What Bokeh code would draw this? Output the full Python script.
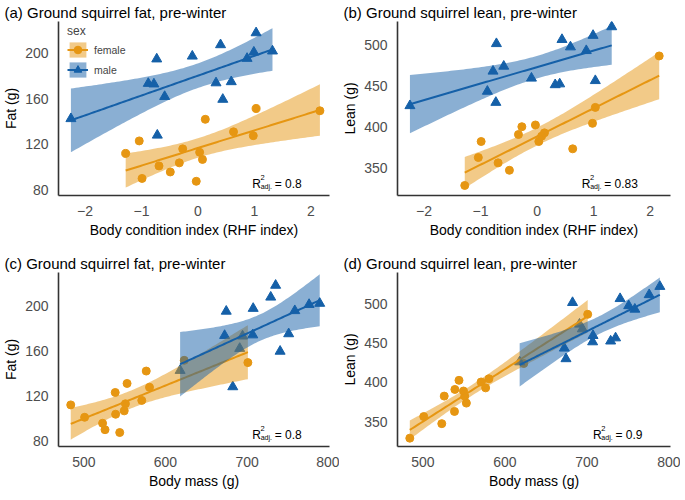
import numpy as np
from bokeh.plotting import figure
from bokeh.layouts import gridplot
from bokeh.models import Label, Legend, LegendItem, Range1d, FixedTicker
from bokeh.embed import file_html
from bokeh.resources import INLINE

# ---------------- data ----------------
female_rhf = [-1.28, -1.04, -0.99, -0.69, -0.49, -0.33, -0.27, -0.03, 0.03, 0.08, 0.13, 0.63, 0.98, 1.03, 2.16]
female_fat = [112, 123, 90, 101, 95.7, 103.7, 116, 87.5, 113, 106.7, 142, 131, 127.6, 151.5, 149.5]
female_lean = [329, 363, 382.5, 356.5, 347.5, 391, 400.5, 402.6, 382.5, 389, 393, 373.6, 404.6, 424, 486.6]
female_mass = [484, 538.5, 526, 501, 523, 539, 571, 544, 551, 549.5, 576.5, 553, 580.5, 623, 701]

male_rhf = [-2.25, -0.88, -0.73, -0.72, -0.59, -0.78, 0.32, -0.10, 0.40, 1.03, 0.44, 0.59, 0.87, 0.99, 1.32]
male_fat = [142.5, 173.5, 195, 128, 162, 173, 174, 197.5, 207.5, 218, 159.5, 175, 195.5, 201, 202]
male_lean = [426, 443.5, 430, 501.5, 474, 468, 451.5, 459.5, 452.5, 456.5, 506.5, 497.5, 493, 511.5, 522]
male_mass = [618, 672.5, 674.5, 682.5, 691, 694.5, 707, 707.5, 729, 735, 740.5, 751, 758.5, 776, 789]

r2_values = ["0.8", "0.83", "0.8", "0.9"]
titles = ["(a) Ground squirrel fat, pre-winter", "(b) Ground squirrel lean, pre-winter",
          "(c) Ground squirrel fat, pre-winter", "(d) Ground squirrel lean, pre-winter"]
xlabels = ["Body condition index (RHF index)", "Body condition index (RHF index)",
           "Body mass (g)", "Body mass (g)"]
ylabels = ["Fat (g)", "Lean (g)", "Fat (g)", "Lean (g)"]
rhf_ticks = [-2, -1, 0, 1, 2]
mass_ticks = [500, 600, 700, 800]
fat_ticks = [80, 120, 160, 200]
lean_ticks = [350, 400, 450, 500]

# ---------------- styling ----------------
FEMALE = "#E69612"
MALE = "#1560A8"
FONT = "Liberation Sans"
T_CRIT = 2.160  # t(0.975, df = 13)


def fit_band(x, y):
    x = np.asarray(x, float)
    y = np.asarray(y, float)
    n = len(x)
    b, a = np.polyfit(x, y, 1)
    xs = np.linspace(x.min(), x.max(), 80)
    yh = a + b * xs
    s = np.sqrt(np.sum((y - (a + b * x)) ** 2) / (n - 2))
    se = s * np.sqrt(1.0 / n + (xs - x.mean()) ** 2 / np.sum((x - x.mean()) ** 2))
    return xs, yh, yh - T_CRIT * se, yh + T_CRIT * se


def panel(idx, fx, fy, mx, my, xr, yr, xt, yt, r2frac, legend=False,
          fw=271, fh=174, left=52, right=10, top=21, bottom=46):
    p = figure(output_backend="svg", toolbar_location=None,
               frame_width=fw, frame_height=fh,
               min_border_left=left, min_border_right=right,
               min_border_top=top, min_border_bottom=bottom,
               x_range=Range1d(*xr), y_range=Range1d(*yr))
    p.outline_line_color = None
    p.xgrid.visible = False
    p.ygrid.visible = False
    p.background_fill_color = "white"
    p.border_fill_color = "white"

    p.title.text = titles[idx]
    p.title.text_font = FONT
    p.title.text_font_size = "15px"
    p.title.text_font_style = "normal"
    p.title.text_color = "black"
    p.title.align = "left"
    p.title.offset = -(left + 2)
    p.title.standoff = 2

    for ax in (p.xaxis[0], p.yaxis[0]):
        ax.axis_line_color = "#333333"
        ax.axis_line_width = 1.6
        ax.major_tick_line_color = None
        ax.minor_tick_line_color = None
        ax.major_label_text_font = FONT
        ax.major_label_text_font_size = "14px"
        ax.major_label_text_color = "#4D4D4D"
        ax.axis_label_text_font = FONT
        ax.axis_label_text_font_size = "14px"
        ax.axis_label_text_font_style = "normal"
        ax.axis_label_text_color = "black"
        ax.major_label_standoff = 4
        ax.axis_label_standoff = 3
    p.xaxis[0].ticker = FixedTicker(ticks=xt)
    p.yaxis[0].ticker = FixedTicker(ticks=yt)
    p.xaxis[0].axis_label = xlabels[idx]
    p.yaxis[0].axis_label = ylabels[idx]

    # points first (as in the reference), then ribbons + lines per group
    pf = p.scatter(fx, fy, marker="circle", size=8, color=FEMALE)
    pm = p.scatter(mx, my, marker="triangle", size=10, color=MALE)
    xs, yh, lo, hi = fit_band(fx, fy)
    bf = p.varea(x=xs, y1=lo, y2=hi, fill_color=FEMALE, fill_alpha=0.5)
    lf = p.line(xs, yh, line_color=FEMALE, line_width=2)
    xs, yh, lo, hi = fit_band(mx, my)
    bm = p.varea(x=xs, y1=lo, y2=hi, fill_color=MALE, fill_alpha=0.5)
    lm = p.line(xs, yh, line_color=MALE, line_width=2)

    # R^2 label (right part of the panel)
    x0 = xr[0] + r2frac * (xr[1] - xr[0])
    y0 = yr[0] + 0.065 * (yr[1] - yr[0])
    common = dict(x=x0, y=y0, text_font=FONT, text_color="black",
                  text_baseline="alphabetic", text_align="left")
    p.add_layout(Label(text="R", text_font_size="12px", **common))
    p.add_layout(Label(text="2", text_font_size="7.5px", x_offset=8.2, y_offset=6.5, **common))
    p.add_layout(Label(text="adj.", text_font_size="7px", x_offset=8.4, y_offset=-2.5, **common))
    p.add_layout(Label(text="= " + r2_values[idx], text_font_size="12px", x_offset=22.5, **common))

    if legend:
        lg = Legend(items=[LegendItem(label="female", renderers=[bf, lf, pf]),
                           LegendItem(label="male", renderers=[bm, lm, pm])],
                    title="sex", location=(8, fh - 2 - 57))
        lg.title_text_font = FONT
        lg.title_text_font_size = "12px"
        lg.title_text_font_style = "normal"
        lg.title_standoff = 2
        lg.label_text_font = FONT
        lg.label_text_font_size = "10.5px"
        lg.glyph_width = 21
        lg.glyph_height = 19
        lg.spacing = 1
        lg.padding = 1
        lg.margin = 0
        lg.label_standoff = 6
        lg.background_fill_alpha = 0
        lg.border_line_alpha = 0
        p.add_layout(lg)
    return p


pa = panel(0, female_rhf, female_fat, male_rhf, male_fat, (-2.47, 2.33), (75, 228),
           rhf_ticks, fat_ticks, 0.715, legend=True, fw=271, left=52, right=10)
pb = panel(1, female_rhf, female_lean, male_rhf, male_lean, (-2.47, 2.36), (316.8, 528.5),
           rhf_ticks, lean_ticks, 0.675, fw=273, left=52, right=10)
pc = panel(2, female_mass, female_fat, male_mass, male_fat, (469, 801), (75.1, 229.4),
           mass_ticks, fat_ticks, 0.715, fw=271, left=52, right=10, top=31, bottom=37)
pd = panel(3, female_mass, female_lean, male_mass, male_lean, (469, 802), (318.4, 539.8),
           mass_ticks, lean_ticks, 0.716, fw=273, left=52, right=10, top=31, bottom=37)

grid = gridplot([[pa, pb], [pc, pd]], toolbar_location=None)
open("out.html", "w").write(file_html(grid, INLINE))
